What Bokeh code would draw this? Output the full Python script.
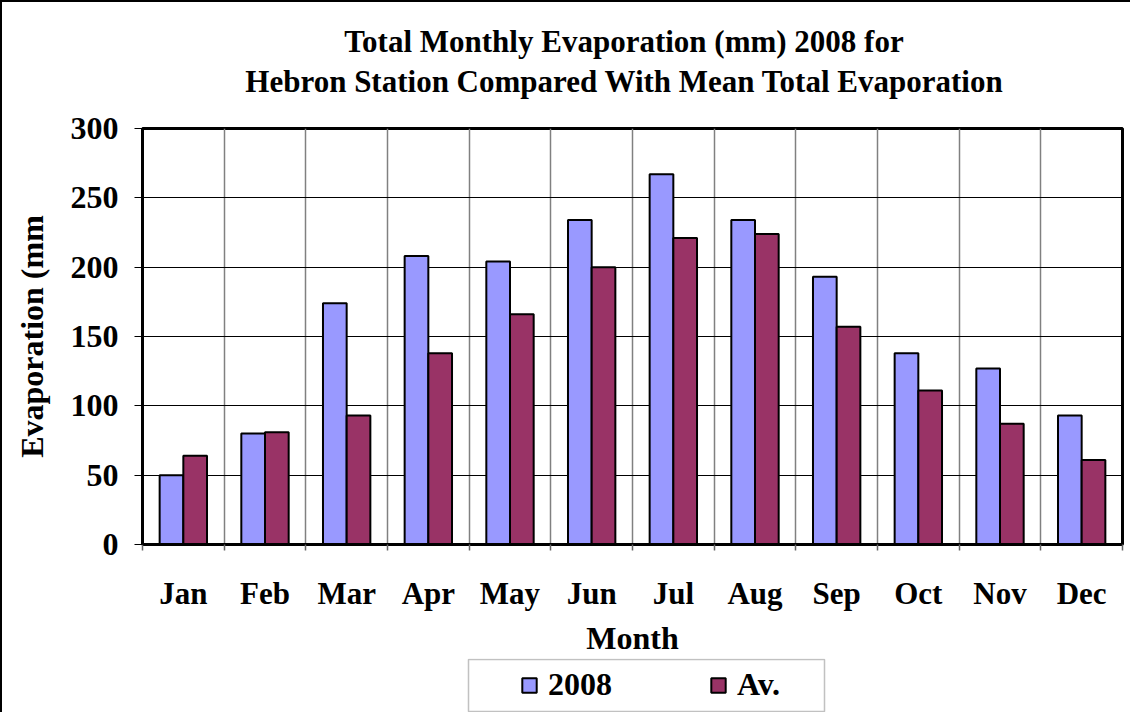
from bokeh.plotting import figure
from bokeh.layouts import column
from bokeh.models import (ColumnDataSource, Range1d, FixedTicker,
                          Legend, LegendItem, Div, BoxAnnotation)
from bokeh.transform import dodge
from bokeh.embed import file_html
from bokeh.resources import INLINE

# ---- data ----
months = ["Jan", "Feb", "Mar", "Apr", "May", "Jun",
          "Jul", "Aug", "Sep", "Oct", "Nov", "Dec"]
evap_2008 = [50, 80, 174, 208, 204, 234, 267, 234, 193, 138, 127, 93]
evap_avg = [64, 81, 93, 138, 166, 200, 221, 224, 157, 111, 87, 61]
y_ticks = [0, 50, 100, 150, 200, 250, 300]
series_names = ["2008", "Av."]
title_lines = ["Total Monthly Evaporation (mm) 2008 for",
               "Hebron Station Compared With Mean Total Evaporation"]

FONT = "Liberation Serif"
n = len(months)
centers = [i + 0.5 for i in range(n)]
bounds = [float(i) for i in range(n + 1)]
C2008, CAV = "#9999FF", "#993366"

src = ColumnDataSource(dict(x=centers, a=evap_2008, b=evap_avg, m=months))
xr = Range1d(0, n)

# ---- title block ----
title_html = "".join(f"<div>{t}</div>" for t in title_lines)
title = Div(text=title_html, width=1128, height=106, margin=0,
            styles={"font-family": FONT, "font-weight": "bold",
                    "font-size": "31px", "line-height": "40px",
                    "color": "black", "text-align": "center",
                    "padding-top": "20px", "padding-left": "116px",
                    "box-sizing": "border-box", "background": "white"})

# ---- main chart ----
p = figure(width=1128, height=550, output_backend="svg", toolbar_location=None,
           x_range=xr, y_range=Range1d(y_ticks[0], y_ticks[-1]),
           min_border_left=140, min_border_right=8, min_border_top=20,
           min_border_bottom=110, margin=0)
p.background_fill_color = "white"
p.border_fill_color = "white"
p.outline_line_color = "black"
p.outline_line_width = 3

# x axis: labels at centers, minor ticks at boundaries
xa = p.xaxis[0]
xa.ticker = FixedTicker(ticks=centers, minor_ticks=bounds)
xa.major_label_overrides = {c: m for c, m in zip(centers, months)}
xa.axis_line_width = 3
xa.axis_line_color = "black"
xa.major_tick_line_color = None
xa.major_tick_out = 0
xa.major_tick_in = 0
xa.minor_tick_line_color = "#666666"
xa.minor_tick_line_width = 1.5
xa.minor_tick_out = 6
xa.minor_tick_in = 0
xa.major_label_text_font = FONT
xa.major_label_text_font_style = "bold"
xa.major_label_text_font_size = "31px"
xa.major_label_text_color = "black"
xa.major_label_standoff = 25
xa.axis_label = "Month"
xa.axis_label_text_font = FONT
xa.axis_label_text_font_style = "bold"
xa.axis_label_text_font_size = "32px"
xa.axis_label_text_color = "black"
xa.axis_label_standoff = 6

# y axis
ya = p.yaxis[0]
ya.ticker = FixedTicker(ticks=y_ticks)
ya.axis_line_width = 3
ya.axis_line_color = "black"
ya.major_tick_out = 8
ya.major_tick_in = 0
ya.major_tick_line_color = "black"
ya.minor_tick_line_color = None
ya.major_label_text_font = FONT
ya.major_label_text_font_style = "bold"
ya.major_label_text_font_size = "32px"
ya.major_label_text_color = "black"
ya.major_label_standoff = 16
ya.axis_label = "Evaporation (mm"
ya.axis_label_text_font = FONT
ya.axis_label_text_font_style = "bold"
ya.axis_label_text_font_size = "32px"
ya.axis_label_text_color = "black"
ya.axis_label_standoff = 18

# grids
p.xgrid.ticker = FixedTicker(ticks=bounds)
p.xgrid.grid_line_color = "#808080"
p.xgrid.grid_line_width = 1.5
p.ygrid.ticker = FixedTicker(ticks=y_ticks)
p.ygrid.grid_line_color = "black"
p.ygrid.grid_line_width = 1

# bars
p.vbar(x=dodge("x", -0.145, range=xr), top="a", width=0.29, source=src,
       fill_color=C2008, line_color="black", line_width=2)
p.vbar(x=dodge("x", 0.145, range=xr), top="b", width=0.29, source=src,
       fill_color=CAV, line_color="black", line_width=2)

# ---- legend strip below the chart (pixel-scaled frame) ----
p2 = figure(width=1128, height=54, output_backend="svg", toolbar_location=None,
            x_range=Range1d(0, 980), y_range=Range1d(0, 54),
            x_axis_location=None, y_axis_location=None,
            min_border_left=140, min_border_right=8, min_border_top=0,
            min_border_bottom=0, margin=0)
p2.grid.visible = False
p2.outline_line_color = None
p2.background_fill_color = "white"
p2.border_fill_color = "white"
p2.add_layout(BoxAnnotation(left=326, right=682, bottom=1, top=53,
                            fill_color="white", fill_alpha=1,
                            line_color="#333333", line_width=1.5))
l1 = p2.vbar(x="x", top="a", width=0.29, source=src,
             fill_color=C2008, line_color="black", line_width=2, visible=False)
l2 = p2.vbar(x="x", top="b", width=0.29, source=src,
             fill_color=CAV, line_color="black", line_width=2, visible=False)

legend = Legend(items=[LegendItem(label=series_names[0], renderers=[l1]),
                       LegendItem(label=series_names[1], renderers=[l2])],
                orientation="horizontal", location=(378, 9), margin=0,
                label_text_font=FONT, label_text_font_style="bold",
                label_text_font_size="32px", label_text_color="black",
                glyph_width=18, glyph_height=18, label_width=64,
                label_standoff=10, spacing=97, padding=0,
                border_line_color=None, background_fill_alpha=0)
p2.add_layout(legend, "center")

layout = column(title, p, p2, spacing=0,
                styles={"border-left": "2px solid black",
                        "border-top": "2px solid black"})

open("out.html", "w").write(file_html(layout, INLINE))
